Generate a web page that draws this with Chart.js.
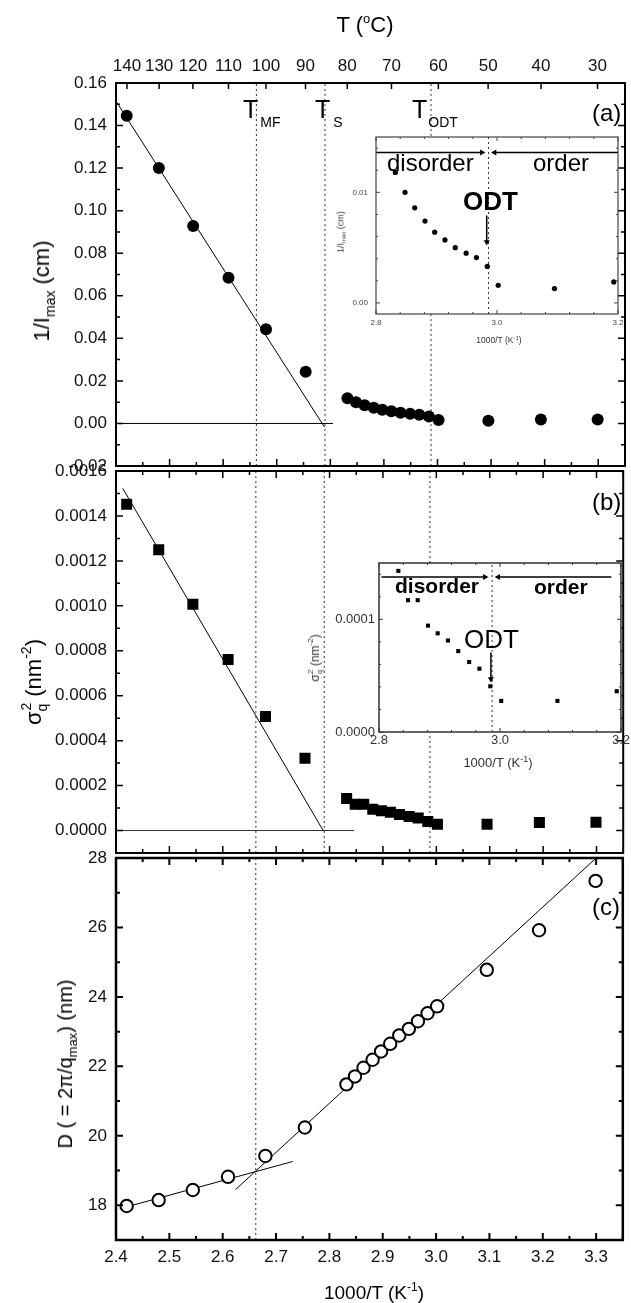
<!DOCTYPE html>
<html>
<head>
<meta charset="utf-8">
<script src="https://cdn.jsdelivr.net/npm/chart.js@4.4.1/dist/chart.umd.min.js"></script>
<style>
  html, body { margin: 0; padding: 0; background: #fff; }
  #fig { position: relative; width: 631px; height: 1303px; overflow: hidden;
         font-family: 'Liberation Sans', Arial, Helvetica, sans-serif; color: #000; }
  #fig canvas { position: absolute; left: 0; top: 0; }
  .t { position: absolute; white-space: nowrap; line-height: 1; }
  .c { transform: translate(-50%, -50%); }
  .r { transform: translate(-50%, -50%) rotate(-90deg); }
  .sub, .sup { position: relative; }
</style>
</head>
<body>
<div id="fig">
  <canvas id="chartA" width="631" height="1303"></canvas>
  <canvas id="chartB" width="631" height="1303"></canvas>
  <canvas id="chartC" width="631" height="1303"></canvas>
  <canvas id="insetA" width="631" height="1303"></canvas>
  <canvas id="insetB" width="631" height="1303"></canvas>

  <!-- top axis title -->
  <div class="t c" style="left:365px;top:25px;font-size:22px">T (<span class="sup" style="font-size:13px;top:-9px">o</span>C)</div>

  <!-- transition labels -->
  <div class="t" style="left:243px;top:97px;font-size:25px">T<span class="sub" style="font-size:14px;top:9px;margin-left:2px">MF</span></div>
  <div class="t" style="left:315px;top:97px;font-size:25px">T<span class="sub" style="font-size:14px;top:9px;margin-left:3px">S</span></div>
  <div class="t" style="left:412px;top:97px;font-size:25px">T<span class="sub" style="font-size:14px;top:9px;margin-left:1px">ODT</span></div>

  <!-- panel letters -->
  <div class="t" style="left:592px;top:101px;font-size:24px">(a)</div>
  <div class="t" style="left:592px;top:490px;font-size:24px">(b)</div>
  <div class="t" style="left:592px;top:895px;font-size:24px">(c)</div>

  <!-- axis titles -->
  <div class="t r" style="left:42px;top:291px;font-size:22px">1/I<span class="sub" style="font-size:14px;top:6px">max</span> (cm)</div>
  <div class="t r" style="left:34px;top:682px;font-size:22px">σ<span class="sub" style="font-size:14px;top:6px">q</span><span class="sup" style="font-size:14px;top:-10px;margin-left:-7px">2</span> (nm<span class="sup" style="font-size:14px;top:-10px">-2</span>)</div>
  <div class="t r" style="left:65px;top:1064px;font-size:20px">D ( = 2π/q<span class="sub" style="font-size:13px;top:5px">max</span>) (nm)</div>
  <div class="t c" style="left:374px;top:1292px;font-size:19px">1000/T (K<span class="sup" style="font-size:12px;top:-8px">-1</span>)</div>

  <!-- inset (a) texts -->
  <div class="t" style="left:387px;top:151px;font-size:24px">disorder</div>
  <div class="t" style="left:533px;top:151px;font-size:24px">order</div>
  <div class="t" style="left:463px;top:188px;font-size:26px;font-weight:bold">ODT</div>
  <div class="t r" style="left:341px;top:232px;font-size:9px;color:#333">1/I<span class="sub" style="font-size:6px;top:2px">max</span> (cm)</div>
  <div class="t c" style="left:499px;top:340px;font-size:8.5px;color:#333">1000/T (K<span class="sup" style="font-size:6px;top:-3px">-1</span>)</div>

  <!-- inset (b) texts -->
  <div class="t" style="left:395px;top:575px;font-size:21px;font-weight:bold">disorder</div>
  <div class="t" style="left:534px;top:576px;font-size:21px;font-weight:bold">order</div>
  <div class="t" style="left:464px;top:626px;font-size:26px">ODT</div>
  <div class="t r" style="left:315px;top:658px;font-size:12px;color:#333">σ<span class="sub" style="font-size:8px;top:3px">q</span><span class="sup" style="font-size:8px;top:-6px;margin-left:-4px">2</span> (nm<span class="sup" style="font-size:8px;top:-6px">-2</span>)</div>
  <div class="t c" style="left:498px;top:762px;font-size:13px;color:#333">1000/T (K<span class="sup" style="font-size:9px;top:-5px">-1</span>)</div>
</div>

<script>
// Data
const invT = [2.420, 2.480, 2.544, 2.610, 2.680, 2.754, 2.832, 2.848, 2.864, 2.881,
              2.897, 2.914, 2.931, 2.949, 2.966, 2.984, 3.002, 3.095, 3.193, 3.299];
const invIntensity = [0.1446, 0.1200, 0.0928, 0.0685, 0.0443, 0.0243, 0.0118, 0.0100, 0.0086, 0.0074,
                      0.0064, 0.0057, 0.0050, 0.0045, 0.0041, 0.0033, 0.0016, 0.0013, 0.0019, 0.0018];
const sigma2 = [0.001452, 0.001250, 0.001007, 0.000761, 0.000507, 0.000322, 0.000143, 0.000117, 0.000117, 0.0000944,
                0.0000876, 0.0000812, 0.0000718, 0.0000621, 0.0000562, 0.0000406, 0.0000276, 0.0000276, 0.0000362, 0.0000369];
const spacing = [17.98, 18.15, 18.44, 18.82, 19.42, 20.24, 21.48, 21.71, 21.96, 22.19,
                 22.43, 22.65, 22.89, 23.08, 23.30, 23.53, 23.73, 24.78, 25.92, 27.34];

// T_MF, T_S, T_ODT (1000/T)
const transitions = [2.662, 2.790, 2.988];
const insetOdt = 2.986;

// fit lines and baselines, [x, y] end points
const fitA = [[2.4015, 0.1509], [2.789, -0.0017]];
const zeroA = [[2.400, 0], [2.805, 0]];
const fitB = [[2.4126, 0.001523], [2.788, 0]];
const zeroB = [[2.400, 0], [2.846, 0]];
const fitC1 = [[2.407, 17.90], [2.731, 19.26]];
const fitC2 = [[2.624, 18.45], [3.300, 28.00]];

// inset arrows, [from, to]
const arrowsA = [
  [[2.800, 0.0136], [2.975, 0.0136]],
  [[3.200, 0.0136], [2.996, 0.0136]],
  [[2.983, 0.0079], [2.983, 0.0055]]
];
const arrowsB = [
  [[2.804, 0.0001376], [2.975, 0.0001376]],
  [[3.184, 0.0001376], [2.997, 0.0001376]],
  [[2.985, 0.0000706], [2.985, 0.0000470]]
];

// tick labels
const tempTicks = [140, 130, 120, 110, 100, 90, 80, 70, 60, 50, 40, 30];
const yTicksA = [-0.02, 0, 0.02, 0.04, 0.06, 0.08, 0.10, 0.12, 0.14, 0.16];
const yTicksB = [0, 0.0002, 0.0004, 0.0006, 0.0008, 0.0010, 0.0012, 0.0014, 0.0016];
const yTicksC = [18, 20, 22, 24, 26, 28];
const xTicks = [2.4, 2.5, 2.6, 2.7, 2.8, 2.9, 3.0, 3.1, 3.2, 3.3];
const insetXTicks = [2.8, 3.0, 3.2];
const insetYTicksA = [0, 0.01];
const insetYTicksB = [0, 0.0001];

const FONT = "'Liberation Sans', Arial, Helvetica, sans-serif";
Chart.defaults.font.family = FONT;
Chart.defaults.color = '#000';

function steps(min, max, step) {
  const out = [];
  for (let i = Math.ceil(min / step - 1e-6); i * step <= max + step * 1e-6; i++) out.push(i * step);
  return out;
}
const isMajor = (v, m) => Math.abs(v / m - Math.round(v / m)) < 1e-6;

// box frame with inward ticks, like the original plotting program
Chart.register({
  id: 'frame',
  defaults: { bg: null, color: '#000', lineWidth: 2, tickWidth: 1.5, major: 7, minor: 4,
              xMajor: 0.1, xMinor: 0.05, yMajor: 0.02, yMinor: 0.01, topTicks: false },
  beforeDraw(chart, args, o) {
    if (!o.bg) return;
    const a = chart.chartArea, ctx = chart.ctx;
    ctx.save();
    ctx.fillStyle = o.bg;
    ctx.fillRect(a.left, a.top, a.right - a.left, a.bottom - a.top);
    ctx.restore();
  },
  afterDraw(chart, args, o) {
    const a = chart.chartArea, ctx = chart.ctx;
    const xs = chart.scales.x, ys = chart.scales.y;
    ctx.save();
    ctx.strokeStyle = o.color;
    ctx.lineWidth = o.tickWidth;
    ctx.beginPath();
    steps(xs.min, xs.max, o.xMinor).forEach(v => {
      const len = isMajor(v, o.xMajor) ? o.major : o.minor;
      const px = xs.getPixelForValue(v);
      ctx.moveTo(px, a.bottom); ctx.lineTo(px, a.bottom - len);
      if (!o.topTicks) { ctx.moveTo(px, a.top); ctx.lineTo(px, a.top + len); }
    });
    if (o.topTicks) {
      chart.scales.x2.ticks.forEach(t => {
        const px = xs.getPixelForValue(t.value);
        ctx.moveTo(px, a.top); ctx.lineTo(px, a.top + o.major - 1);
      });
    }
    steps(ys.min, ys.max, o.yMinor).forEach(v => {
      const len = isMajor(v, o.yMajor) ? o.major : o.minor;
      const py = ys.getPixelForValue(v);
      ctx.moveTo(a.left, py); ctx.lineTo(a.left + len, py);
      ctx.moveTo(a.right, py); ctx.lineTo(a.right - len, py);
    });
    ctx.stroke();
    ctx.lineWidth = o.lineWidth;
    ctx.strokeRect(a.left, a.top, a.right - a.left, a.bottom - a.top);
    ctx.restore();
  }
});

function points(ys) { return invT.map((x, i) => ({ x, y: ys[i] })); }
function seg(p) { return [{ x: p[0][0], y: p[0][1] }, { x: p[1][0], y: p[1][1] }]; }
function vline(x, y0, y1) { return [{ x, y: y0 }, { x, y: y1 }]; }

function lineSet(data, extra) {
  return Object.assign({ data, showLine: true, borderColor: '#000', borderWidth: 1,
                         pointRadius: 0, fill: false }, extra);
}
function dotted(data) { return lineSet(data, { borderDash: [2, 3], borderColor: '#333' }); }
function arrowSet(p) {
  const [p0, p1] = p;
  const rot = p1[0] !== p0[0] ? (p1[0] > p0[0] ? 90 : 270) : (p1[1] < p0[1] ? 180 : 0);
  return lineSet(seg(p), { borderWidth: 1.5, pointStyle: 'triangle', pointRadius: [0, 3.5],
                           pointRotation: [0, rot], pointBackgroundColor: '#000', pointBorderWidth: 0 });
}

function axis(pos, min, max, ticks, fmt, size, pad, fit, color) {
  return {
    type: 'linear', position: pos, min, max,
    grid: { display: false, drawTicks: false },
    border: { display: false },
    afterBuildTicks: s => { s.ticks = ticks.map(v => ({ value: v })); },
    ticks: { callback: fmt, font: { size }, padding: pad, color: color || '#111',
             maxRotation: 0, autoSkip: false },
    afterFit: s => { if (pos === 'left') s.width = fit; else s.height = fit; }
  };
}
function hidden(min, max) { return { type: 'linear', min, max, display: false }; }

function options(padding, scales, frame) {
  return {
    responsive: false, animation: false, events: [],
    layout: { padding },
    scales,
    plugins: { legend: { display: false }, tooltip: { enabled: false }, frame }
  };
}

// (a) 1/I_max
new Chart(document.getElementById('chartA'), {
  type: 'scatter',
  data: { datasets: [
    { data: points(invIntensity), pointStyle: 'circle', pointRadius: 6,
      pointBackgroundColor: '#000', pointBorderColor: '#000', pointBorderWidth: 0 },
    lineSet(seg(fitA)),
    lineSet(seg(zeroA)),
    ...transitions.map(t => dotted(vline(t, -0.02, 0.16)))
  ] },
  options: options({ left: 0, right: 1, top: 0, bottom: 837 }, {
    x: hidden(2.4, 3.35),
    x2: axis('top', 2.4, 3.35, tempTicks.map(t => 1000 / (t + 273.15)),
             v => String(Math.round(1000 / v - 273.15)), 17, 6, 83),
    y: axis('left', -0.02, 0.16, yTicksA, v => v.toFixed(2), 17, 9, 116)
  }, { topTicks: true, yMajor: 0.02, yMinor: 0.01 })
});

// (b) sigma_q^2
new Chart(document.getElementById('chartB'), {
  type: 'scatter',
  data: { datasets: [
    { data: points(sigma2), pointStyle: 'rect', pointRadius: 7.8,
      pointBackgroundColor: '#000', pointBorderColor: '#000', pointBorderWidth: 0 },
    lineSet(seg(fitB)),
    lineSet(seg(zeroB), { borderColor: '#333' }),
    ...transitions.map(t => dotted(vline(t, -0.0001, 0.0016)))
  ] },
  options: options({ left: 0, right: 1, top: 471, bottom: 450 }, {
    x: hidden(2.4, 3.35),
    y: axis('left', -0.0001, 0.0016, yTicksB, v => v.toFixed(4), 17, 9, 116)
  }, { yMajor: 0.0002, yMinor: 0.0001 })
});

// (c) D spacing
new Chart(document.getElementById('chartC'), {
  type: 'scatter',
  data: { datasets: [
    { data: points(spacing), pointStyle: 'circle', pointRadius: 6.2,
      pointBackgroundColor: '#fff', pointBorderColor: '#000', pointBorderWidth: 2 },
    lineSet(seg(fitC1)),
    lineSet(seg(fitC2)),
    dotted(vline(transitions[0], 17, 28))
  ] },
  options: options({ left: 0, right: 1, top: 858, bottom: 0 }, {
    x: axis('bottom', 2.4, 3.35, xTicks, v => v.toFixed(1), 17, 7, 63),
    y: axis('left', 17, 28, yTicksC, v => String(v), 17, 9, 116)
  }, { lineWidth: 2.5, tickWidth: 2, yMajor: 2, yMinor: 1 })
});

// inset of (a)
new Chart(document.getElementById('insetA'), {
  type: 'scatter',
  data: { datasets: [
    { data: points(invIntensity), pointStyle: 'circle', pointRadius: 2.6,
      pointBackgroundColor: '#000', pointBorderWidth: 0 },
    ...arrowsA.map(arrowSet),
    dotted(vline(insetOdt, -0.001, 0.015))
  ] },
  options: options({ left: 330, right: 13, top: 137, bottom: 950 }, {
    x: axis('bottom', 2.8, 3.2, insetXTicks, v => v.toFixed(1), 8, 4, 39, '#444'),
    y: axis('left', -0.001, 0.015, insetYTicksA, v => v.toFixed(2), 8, 8, 46, '#444')
  }, { bg: '#fff', color: '#444', lineWidth: 1.2, tickWidth: 1, major: 4, minor: 2,
       xMajor: 0.2, xMinor: 0.04, yMajor: 0.01, yMinor: 0.002 })
});

// inset of (b)
new Chart(document.getElementById('insetB'), {
  type: 'scatter',
  data: { datasets: [
    { data: points(sigma2), pointStyle: 'rect', pointRadius: 2.9,
      pointBackgroundColor: '#000', pointBorderWidth: 0 },
    ...arrowsB.map(arrowSet),
    dotted(vline(insetOdt + 0.001, 0, 0.00015))
  ] },
  options: options({ left: 300, right: 10, top: 563, bottom: 541 }, {
    x: axis('bottom', 2.8, 3.2, insetXTicks, v => v.toFixed(1), 13, 1, 30, '#333'),
    y: axis('left', 0, 0.00015, insetYTicksB, v => v.toFixed(4), 13, 4, 79, '#333')
  }, { bg: '#fff', color: '#333', lineWidth: 1.5, tickWidth: 1, major: 4, minor: 2,
       xMajor: 0.2, xMinor: 0.04, yMajor: 0.0001, yMinor: 0.00002 })
});
</script>
</body>
</html>
